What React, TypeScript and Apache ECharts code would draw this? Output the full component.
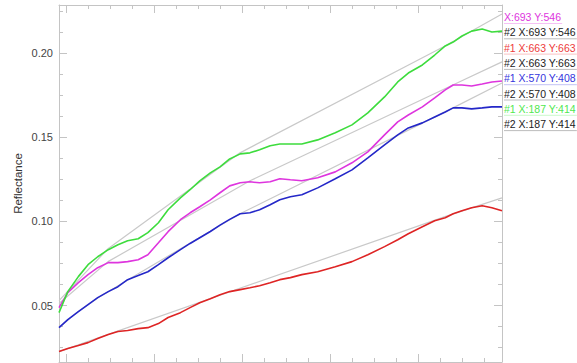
import React, { useEffect, useRef } from "react";
import * as echarts from "echarts";

// Wavelength samples shared by the four spectra
const wavelength = [
  492, 502, 514, 525, 536, 548, 559, 570, 582, 593, 605, 616, 630, 641, 652, 664,
  675, 686, 698, 709, 720, 732, 743, 755, 768, 786, 806, 825, 843, 862, 877, 889,
  905, 919, 931, 940, 950, 961, 973, 984, 995.5,
];

// #1 spectra
const greenSpec = [
  0.0458, 0.0583, 0.0672, 0.0743, 0.079, 0.0832, 0.0861, 0.0885, 0.0897, 0.0933,
  0.0992, 0.1069, 0.114, 0.1188, 0.1241, 0.1288, 0.1324, 0.1371, 0.1401, 0.1407,
  0.1425, 0.1449, 0.146, 0.146, 0.146, 0.1484, 0.1526, 0.1573, 0.1644, 0.1739,
  0.1828, 0.1881, 0.1929, 0.1988, 0.2042, 0.2065, 0.2101, 0.213, 0.2142, 0.2125, 0.213,
];
const magentaSpec = [
  0.0488, 0.0577, 0.0636, 0.0684, 0.0725, 0.0755, 0.0755, 0.0761, 0.0772, 0.0802,
  0.0873, 0.0939, 0.101, 0.1051, 0.1087, 0.1128, 0.117, 0.1211, 0.1229, 0.1235,
  0.1229, 0.1235, 0.1253, 0.1247, 0.1241, 0.1259, 0.1294, 0.1348, 0.1413, 0.1514,
  0.1591, 0.1632, 0.168, 0.1733, 0.1781, 0.181, 0.181, 0.1804, 0.1816, 0.1828, 0.1834,
];
const blueSpec = [
  0.0369, 0.0417, 0.0464, 0.0506, 0.0547, 0.0583, 0.0612, 0.0654, 0.0678, 0.0701,
  0.0743, 0.0784, 0.0832, 0.0869, 0.0903, 0.094, 0.0978, 0.1012, 0.1045, 0.1051,
  0.1069, 0.1099, 0.1128, 0.1146, 0.1158, 0.1199, 0.1253, 0.1306, 0.1377, 0.1454,
  0.1514, 0.1555, 0.1585, 0.162, 0.165, 0.1674, 0.1674, 0.1668, 0.1674, 0.168, 0.168,
];
const redSpec = [
  0.0227, 0.0245, 0.0263, 0.028, 0.0304, 0.0328, 0.0346, 0.0352, 0.0363, 0.0369,
  0.0393, 0.0429, 0.0458, 0.0488, 0.0517, 0.0541, 0.0565, 0.0583, 0.0595, 0.0606,
  0.0618, 0.0636, 0.0654, 0.0666, 0.0684, 0.0701, 0.0731, 0.0761, 0.0802, 0.085,
  0.0891, 0.0927, 0.0968, 0.1004, 0.1022, 0.1045, 0.1063, 0.1081, 0.1093, 0.1081, 0.1063,
];

// #2 continuum lines (vertices)
const hullGreenX = [492, 547.7, 697.7, 930.7, 995.5];
const hullGreenY = [0.0529, 0.0838, 0.1407, 0.2042, 0.2231];
const hullMagentaX = [492, 547.7, 709.1, 942.0, 995.5];
const hullMagentaY = [0.0512, 0.0761, 0.1241, 0.1816, 0.1947];
const hullBlueX = [492, 513.6, 536.4, 570.5, 697.7, 939.8, 995.5];
const hullBlueY = [0.0369, 0.0464, 0.0547, 0.0654, 0.1045, 0.1674, 0.1822];
const hullRedX = [492, 930.7, 995.5];
const hullRedY = [0.0227, 0.1028, 0.114];

// Axis ticks
const xMajorTicks = [500, 600, 700, 800, 900];
const xMinorTicks = [525, 550, 575, 625, 650, 675, 725, 750, 775, 825, 850, 875, 925, 950, 975];
const yMajorTicks = [0.05, 0.1, 0.15, 0.2];
const yMinorTicks = [
  0.025, 0.0375, 0.0625, 0.075, 0.0875, 0.1125, 0.125, 0.1375, 0.1625, 0.175,
  0.1875, 0.2125, 0.225,
];

// Legend entries
const legendLabels = [
  "X:693 Y:546",
  "#2 X:693 Y:546",
  "#1 X:663 Y:663",
  "#2 X:663 Y:663",
  "#1 X:570 Y:408",
  "#2 X:570 Y:408",
  "#1 X:187 Y:414",
  "#2 X:187 Y:414",
];

const GREEN = "#3ddc3d";
const MAGENTA = "#de35de";
const BLUE = "#2427c8";
const RED = "#de2424";
const HULL = "#c9c9c9";
const AXIS = "#c4c4c4";
const legendColors = [MAGENTA, "#222222", "#ee3b3b", "#222222", "#3535dd", "#222222", "#4fe84f", "#222222"];

const X_MIN = 492;
const X_MAX = 995.5;
const Y_MIN = 0.0165;
const Y_MAX = 0.2285;

const FONT = '"Liberation Sans", Arial, Helvetica, sans-serif';

function zip(xs: number[], ys: number[]) {
  return xs.map((x, i) => [x, ys[i]]);
}

function xAxisDef(position: "top" | "bottom", ticks: number[], len: number, showLine: boolean) {
  return {
    type: "value",
    min: X_MIN,
    max: X_MAX,
    position,
    axisLine: { show: showLine, onZero: false, lineStyle: { color: AXIS, width: 1 } },
    axisTick: { show: true, inside: true, length: len, customValues: ticks, lineStyle: { color: AXIS, width: 1 } },
    axisLabel: { show: false },
    splitLine: { show: false },
  };
}

function yAxisDef(position: "left" | "right", ticks: number[], len: number, showLine: boolean, extra: any = {}) {
  return {
    type: "value",
    min: Y_MIN,
    max: Y_MAX,
    position,
    axisLine: { show: showLine, onZero: false, lineStyle: { color: AXIS, width: 1 } },
    axisTick: { show: true, inside: true, length: len, customValues: ticks, lineStyle: { color: AXIS, width: 1 } },
    axisLabel: { show: false },
    splitLine: { show: false },
    ...extra,
  };
}

export default function App() {
  const ref = useRef<HTMLDivElement>(null);

  useEffect(() => {
    if (!ref.current) return;
    const chart = echarts.init(ref.current, undefined, { renderer: "svg" });

    const ctx = document.createElement("canvas").getContext("2d");
    const legendFont = `10.5px ${FONT}`;
    if (ctx) ctx.font = legendFont;

    const legendX = 504;
    const legendTop = 17;
    const legendStep = 15.3;
    const legendGraphics: any[] = [];
    legendLabels.forEach((label, i) => {
      const cy = legendTop + i * legendStep;
      const w = ctx ? ctx.measureText(label).width : 70;
      legendGraphics.push({
        type: "line",
        shape: { x1: legendX, y1: cy + 6.5, x2: legendX + w + 1, y2: cy + 6.5 },
        style: { stroke: legendColors[i], opacity: 0.3, lineWidth: 1 },
        silent: true,
      });
      legendGraphics.push({
        type: "text",
        x: legendX,
        y: cy,
        style: {
          text: label,
          fill: legendColors[i],
          font: legendFont,
          textAlign: "left",
          textVerticalAlign: "middle",
        },
        silent: true,
      });
    });

    const spectrum = (name: string, ys: number[], color: string) => ({
      name,
      type: "line",
      xAxisIndex: 0,
      yAxisIndex: 0,
      data: zip(wavelength, ys),
      showSymbol: false,
      lineStyle: { color, width: 1.6 },
      z: 3,
    });
    const hull = (name: string, xs: number[], ys: number[]) => ({
      name,
      type: "line",
      xAxisIndex: 0,
      yAxisIndex: 0,
      data: zip(xs, ys),
      showSymbol: false,
      lineStyle: { color: HULL, width: 1.2 },
      z: 2,
    });

    chart.setOption({
      animation: false,
      backgroundColor: "#ffffff",
      textStyle: { fontFamily: FONT },
      grid: { left: 59, right: 75, top: 5, bottom: 1, containLabel: false, outerBoundsMode: "none" },
      xAxis: [
        xAxisDef("bottom", xMinorTicks, 4, true),
        xAxisDef("bottom", xMajorTicks, 8, false),
        xAxisDef("top", xMinorTicks, 4, true),
        xAxisDef("top", xMajorTicks, 8, false),
      ],
      yAxis: [
        yAxisDef("left", yMinorTicks, 4, true, {
          name: "Reflectance",
          nameLocation: "middle",
          nameGap: 35,
          nameTextStyle: { color: "#333333", fontSize: 11.5, fontFamily: FONT },
        }),
        yAxisDef("left", yMajorTicks, 8, false, {
          axisLabel: {
            show: true,
            customValues: yMajorTicks,
            margin: 6,
            color: "#444444",
            fontSize: 11,
            fontFamily: FONT,
            formatter: (v: number) => v.toFixed(2),
          },
        }),
        yAxisDef("right", yMinorTicks, 4, true),
        yAxisDef("right", yMajorTicks, 8, false),
      ],
      series: [
        hull("#2 X:693 Y:546", hullMagentaX, hullMagentaY),
        hull("#2 X:663 Y:663", hullRedX, hullRedY),
        hull("#2 X:570 Y:408", hullBlueX, hullBlueY),
        hull("#2 X:187 Y:414", hullGreenX, hullGreenY),
        spectrum("#1 X:663 Y:663", redSpec, RED),
        spectrum("#1 X:570 Y:408", blueSpec, BLUE),
        spectrum("X:693 Y:546", magentaSpec, MAGENTA),
        spectrum("#1 X:187 Y:414", greenSpec, GREEN),
      ],
      graphic: legendGraphics,
    });

    return () => chart.dispose();
  }, []);

  return (
    <div
      ref={ref}
      style={{ position: "fixed", left: 0, top: 0, width: 577, height: 363, background: "#ffffff" }}
    />
  );
}
